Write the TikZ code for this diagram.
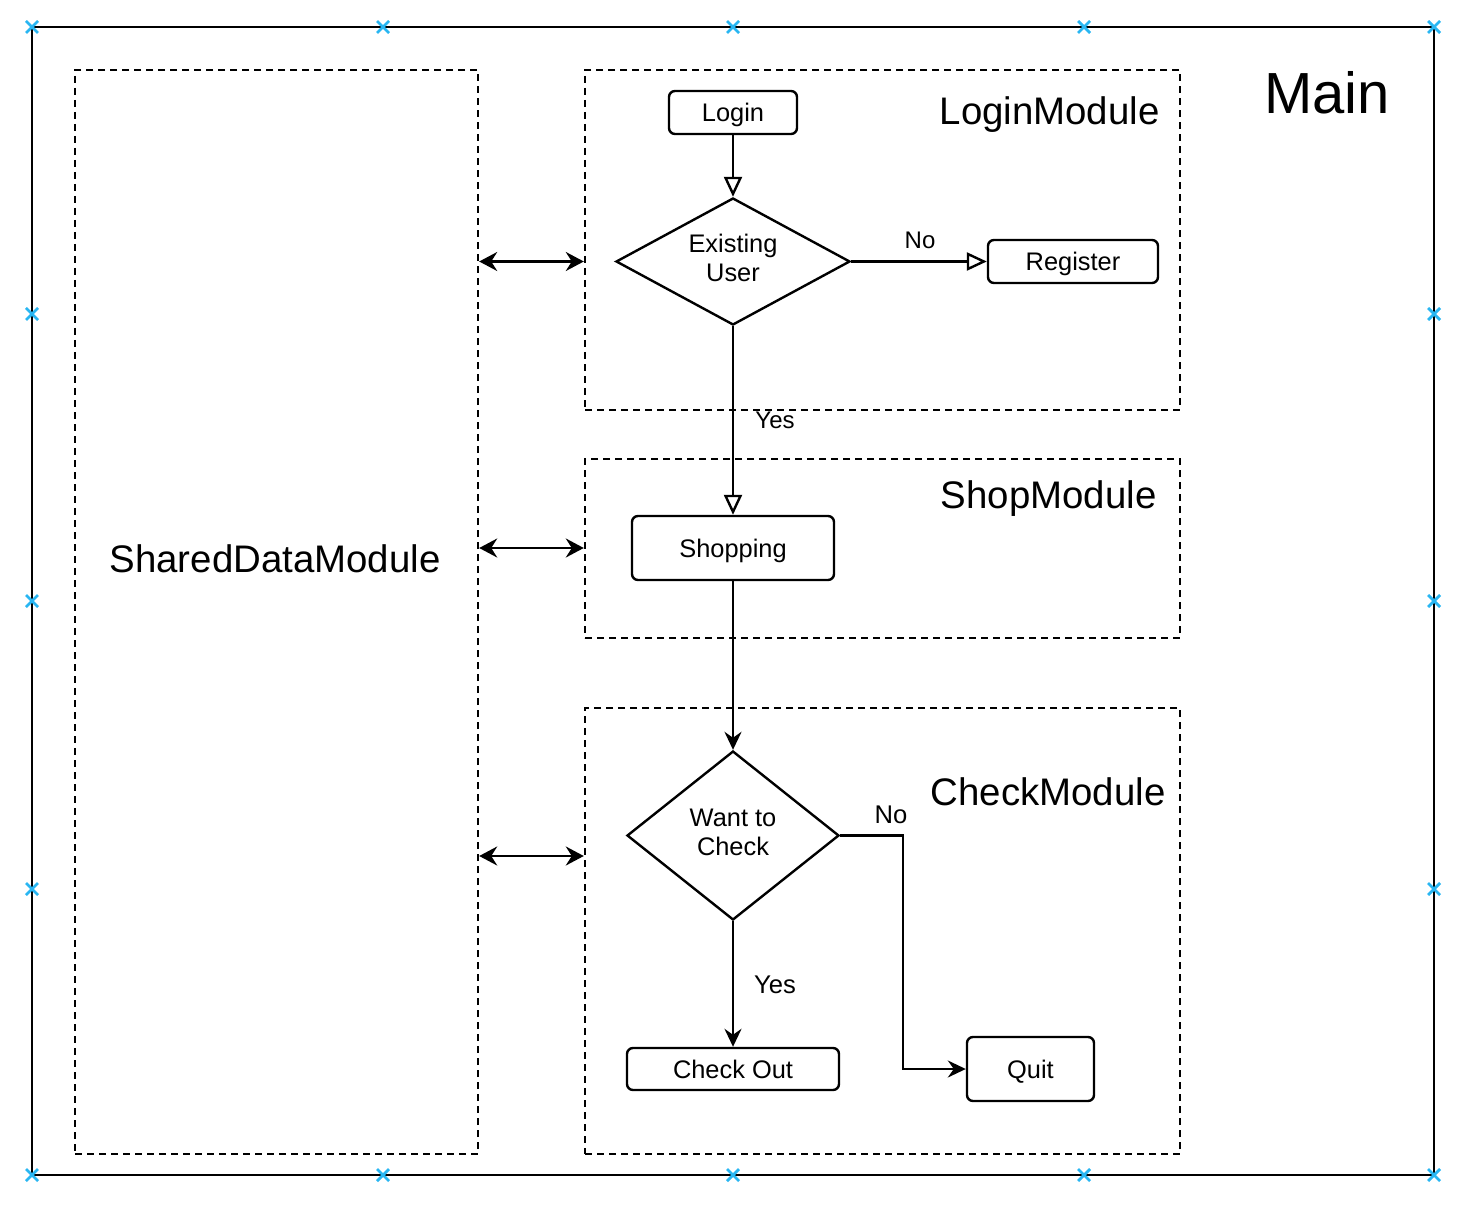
\documentclass[tikz,border=0pt]{standalone}
\usepackage{fontspec}
\setmainfont{Liberation Sans}
\usetikzlibrary{arrows.meta,shapes.geometric,calc}
\begin{document}
\begin{tikzpicture}[x=0.5pt,y=-0.5pt,
  every node/.style={font=\fontsize{12.7}{14.5}\selectfont},
  box/.style={draw, line width=1.2pt, rounded corners=3pt, inner sep=0pt, align=center, text height=9.2pt, text depth=0pt},
  decision/.style={draw, line width=1.2pt, diamond, inner sep=0pt, align=center},
  module/.style={draw, line width=1.2pt, dash pattern=on 3.5pt off 2.5pt, inner sep=0pt, minimum width=297.5pt},
  modlabel/.style={font=\fontsize{19.2}{23}\selectfont, inner sep=0pt, text height=14pt, text depth=0pt},
  edgelabel/.style={font=\fontsize{12}{14}\selectfont, inner sep=0pt},
  openarrow/.style={line width=1.2pt, -{Triangle[open, length=10pt, width=9pt]}},
  fillarrow/.style={line width=1.2pt, -{Stealth[length=9pt, width=8.5pt, inset=3pt]}},
  bothways/.style={line width=1.2pt, {Stealth[length=9pt, width=9.5pt, inset=3pt]}-{Stealth[length=9pt, width=9.5pt, inset=3pt]}},
  handle/.style={draw=handleblue, line width=1.4pt}
]
\definecolor{handleblue}{RGB}{41,182,242}
\useasboundingbox (0,0) rectangle (1465,1208);

% main frame
\node[draw, line width=1.2pt, minimum width=701pt, minimum height=574pt, inner sep=0pt] (main) at (733,601) {};
\node[font=\fontsize{29}{34}\selectfont, inner sep=0pt] (mainlabel) at (1327,93) {Main};

% containers
\node[module, minimum width=201.5pt, minimum height=542pt] (shared) at (276.5,612) {};
\node[modlabel] (sharedlabel) at (275,558) {SharedDataModule};
\node[module, minimum height=170pt] (loginmod) at (882.5,240) {};
\node[modlabel, anchor=east] (loginlabel) at (1160,111) {LoginModule};
\node[module, minimum height=89.5pt] (shopmod) at (882.5,548.5) {};
\node[modlabel, anchor=east] (shoplabel) at (1157,494) {ShopModule};
\node[module, minimum height=223pt] (checkmod) at (882.5,931) {};
\node[modlabel, anchor=east] (checklabel) at (1166,791) {CheckModule};

% flow nodes
\node[box, minimum width=64pt, minimum height=21.5pt] (login) at (733,112.5) {Login};
\node[decision, minimum width=117pt, minimum height=63.5pt, shape aspect=1.84, text depth=4pt] (exist) at (733,261.5) {Existing\\User};
\node[box, minimum width=85pt, minimum height=21.5pt] (register) at (1073,261.5) {Register};
\node[box, minimum width=101pt, minimum height=32pt] (shop) at (733,548) {Shopping};
\node[decision, minimum width=106pt, minimum height=84.5pt, shape aspect=1.25, text depth=3pt] (want) at (733,835.5) {Want to\\Check};
\node[box, minimum width=106pt, minimum height=21pt] (checkout) at (733,1069) {Check Out};
\node[box, minimum width=63.5pt, minimum height=32pt] (quit) at (1030.5,1069) {Quit};

% connectors
\draw[openarrow] (login.south) -- (exist.north);
\draw[openarrow] (exist.east) -- (register.west);
\node[edgelabel] (nolabel1) at (920,240) {No};
\draw[openarrow] (exist.south) -- (shop.north);
\node[edgelabel] (yeslabel1) at (775,420) {Yes};
\draw[fillarrow] (shop.south) -- (want.north);
\draw[fillarrow] (want.south) -- (checkout.north);
\node[edgelabel, font=\fontsize{12.8}{15}\selectfont] (yeslabel2) at (775,985) {Yes};
\coordinate (bend) at (903,835.5);
\draw[fillarrow] (want.east) -- (bend) |- (quit.west);
\node[edgelabel, font=\fontsize{12.8}{15}\selectfont] (nolabel2) at (891,815) {No};

% double arrows
\draw[bothways] (shared.east |- exist) -- (loginmod.west |- exist);
\draw[bothways] (shared.east |- shop) -- (shopmod.west |- shop);
\draw[bothways] (shared.east |- 0,856) -- (checkmod.west |- 0,856);

% selection handles
\foreach \hx/\hy in {32/27,383/27,733/27,1084/27,1434/27,
                     32/1175,383/1175,733/1175,1084/1175,1434/1175,
                     32/314,32/601,32/889,1434/314,1434/601,1434/889}{
  \draw[handle] (\hx-6,\hy-6) -- (\hx+6,\hy+6) (\hx-6,\hy+6) -- (\hx+6,\hy-6);
}
\end{tikzpicture}
\end{document}
